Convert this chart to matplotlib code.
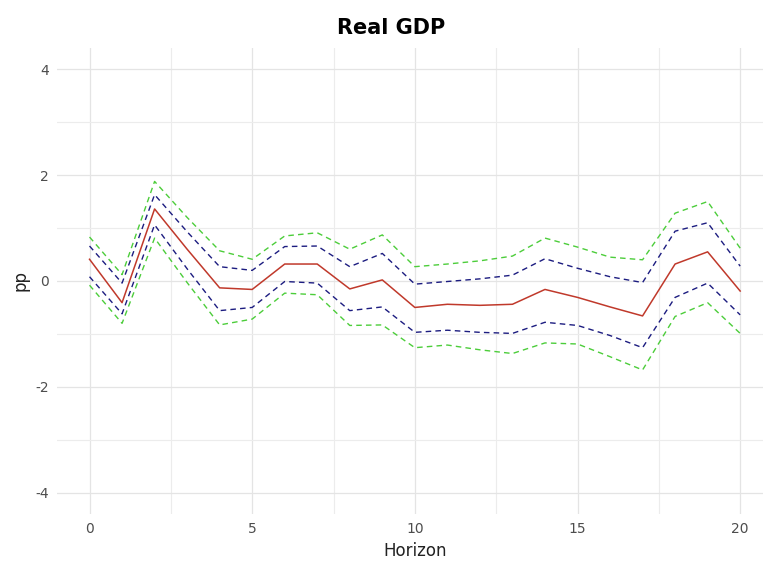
import matplotlib
matplotlib.use('Agg')
import matplotlib.pyplot as plt
from matplotlib.ticker import MultipleLocator

plt.rcParams['axes.unicode_minus'] = False

horizon = list(range(21))
irf = [0.41, -0.41, 1.36, 0.60, -0.13, -0.16, 0.32, 0.32, -0.15, 0.02, -0.50,
       -0.44, -0.46, -0.44, -0.16, -0.31, -0.49, -0.66, 0.32, 0.55, -0.19]
upper_68 = [0.66, -0.04, 1.63, 0.93, 0.27, 0.20, 0.65, 0.66, 0.27, 0.52, -0.06,
            -0.01, 0.04, 0.11, 0.42, 0.24, 0.08, -0.03, 0.94, 1.10, 0.28]
lower_68 = [0.08, -0.62, 1.06, 0.23, -0.56, -0.50, -0.01, -0.04, -0.56, -0.49, -0.97,
            -0.93, -0.97, -0.99, -0.78, -0.84, -1.03, -1.26, -0.31, -0.04, -0.64]
upper_90 = [0.83, 0.12, 1.88, 1.20, 0.57, 0.41, 0.85, 0.91, 0.60, 0.87, 0.27,
            0.32, 0.38, 0.47, 0.81, 0.64, 0.45, 0.40, 1.28, 1.50, 0.62]
lower_90 = [-0.08, -0.80, 0.81, -0.03, -0.83, -0.72, -0.23, -0.26, -0.84, -0.83, -1.26,
            -1.21, -1.30, -1.37, -1.17, -1.19, -1.43, -1.68, -0.67, -0.41, -0.99]

fig = plt.figure(figsize=(7.63, 5.69), dpi=100)
ax = fig.add_axes([0.0747, 0.0967, 0.938, 0.819])

# bands first, then the point estimate on top
ax.plot(horizon, upper_90, color='#4ccd3a', lw=1.0, ls=(0, (4, 3)))
ax.plot(horizon, lower_90, color='#4ccd3a', lw=1.0, ls=(0, (4, 3)))
ax.plot(horizon, upper_68, color='#1c1c80', lw=1.0, ls=(0, (4, 3)))
ax.plot(horizon, lower_68, color='#1c1c80', lw=1.0, ls=(0, (4, 3)))
ax.plot(horizon, irf, color='#c0392b', lw=1.1)

ax.set_xlim(-1, 21)
ax.set_ylim(-4.4, 4.4)
ax.xaxis.set_major_locator(MultipleLocator(5))
ax.xaxis.set_minor_locator(MultipleLocator(2.5))
ax.yaxis.set_major_locator(MultipleLocator(2))
ax.yaxis.set_minor_locator(MultipleLocator(1))
ax.grid(which='major', color='#e4e4e4', lw=0.9)
ax.grid(which='minor', color='#ececec', lw=0.8)
ax.set_axisbelow(True)
for s in ax.spines.values():
    s.set_visible(False)
ax.tick_params(which='both', length=0, labelsize=10, labelcolor='#4d4d4d', pad=6)

ax.set_xlabel('Horizon', fontsize=12, color='#222222')
ax.set_ylabel('pp', fontsize=12, color='#222222')
fig.text(0.512, 0.95, 'Real GDP', ha='center', va='center', fontsize=15, fontweight='bold')

fig.savefig('out.png', dpi=100)
